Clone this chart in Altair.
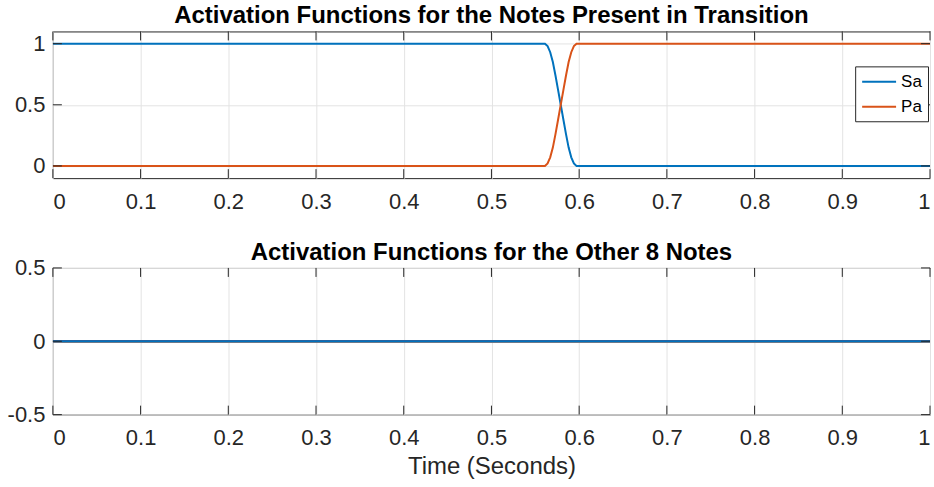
import altair as alt
import pandas as pd

# Sample times (seconds) and activation values for the two notes in transition
time_pts = [0.0, 0.561, 0.564, 0.567, 0.570, 0.573, 0.576, 0.579,
            0.582, 0.585, 0.588, 0.591, 0.594, 0.597, 0.598, 1.0]
sa_vals = [1.0, 1.0, 0.98, 0.93, 0.85, 0.74, 0.62, 0.50,
           0.38, 0.26, 0.15, 0.07, 0.02, 0.0, 0.0, 0.0]
pa_vals = [0.0, 0.0, 0.02, 0.07, 0.15, 0.26, 0.38, 0.50,
           0.62, 0.74, 0.85, 0.93, 0.98, 1.0, 1.0, 1.0]

# The remaining eight notes stay silent over the whole second
other_notes = ["Note 1", "Note 2", "Note 3", "Note 4",
               "Note 5", "Note 6", "Note 7", "Note 8"]
other_time = [0.0, 1.0]
other_vals = [0.0, 0.0]

x_ticks = [0.0, 0.1, 0.2, 0.3, 0.4, 0.5, 0.6, 0.7, 0.8, 0.9, 1.0]
top_y_ticks = [0.0, 0.5, 1.0]
bottom_y_ticks = [-0.5, 0.0, 0.5]

# MATLAB default line colour order
line_colors = ["#0072BD", "#D95319", "#EDB120", "#7E2F8E",
               "#77AC30", "#4DBEEE", "#A2142F", "#0072BD"]

W, H = 879, 147
TICK = 9
AXIS_COLOR = "#262626"
FONT = "Liberation Sans"

top_df = pd.DataFrame({
    "t": time_pts * 2,
    "v": sa_vals + pa_vals,
    "note": ["Sa"] * len(time_pts) + ["Pa"] * len(time_pts),
})

bottom_df = pd.DataFrame({
    "t": [t for _ in other_notes for t in other_time],
    "v": [v for _ in other_notes for v in other_vals],
    "note": [n for n in other_notes for _ in other_time],
})

label_expr = "replace(format(datum.value, '.1~f'), '\u2212', '-')"


def panel(df, y_domain, y_ticks, title, colors, domain, legend, x_title,
          title_offset):
    x_scale = alt.Scale(domain=[0, 1], nice=False, zero=False)
    y_scale = alt.Scale(domain=y_domain, nice=False, zero=False)

    x_axis = alt.Axis(values=x_ticks, labelExpr=label_expr, title=x_title,
                      grid=True, ticks=False, domain=False, tickSize=0,
                      labelPadding=13)
    y_axis = alt.Axis(values=y_ticks, labelExpr=label_expr, title=None,
                      grid=True, ticks=False, domain=False, tickSize=0,
                      labelPadding=8)

    lines = alt.Chart(df).mark_line(strokeWidth=2, clip=True).encode(
        x=alt.X("t:Q", scale=x_scale, axis=x_axis),
        y=alt.Y("v:Q", scale=y_scale, axis=y_axis),
        color=alt.Color("note:N", scale=alt.Scale(domain=domain, range=colors),
                        legend=legend, sort=domain),
        order=alt.Order("note_order:Q"),
    ).transform_calculate(
        note_order="indexof(" + str(domain) + ", datum.note)"
    )

    xt = pd.DataFrame({"x": x_ticks})
    yt = pd.DataFrame({"y": y_ticks})
    rule_style = dict(color=AXIS_COLOR, strokeWidth=1)

    # inward-pointing ticks on all four sides of the box
    xb = alt.Chart(xt).mark_rule(**rule_style).encode(
        x=alt.X("x:Q", scale=x_scale, axis=x_axis),
        y=alt.value(H), y2=alt.value(H - TICK))
    xtp = alt.Chart(xt).mark_rule(**rule_style).encode(
        x=alt.X("x:Q", scale=x_scale, axis=x_axis),
        y=alt.value(0), y2=alt.value(TICK))
    yl = alt.Chart(yt).mark_rule(**rule_style).encode(
        y=alt.Y("y:Q", scale=y_scale, axis=y_axis),
        x=alt.value(0), x2=alt.value(TICK))
    yr = alt.Chart(yt).mark_rule(**rule_style).encode(
        y=alt.Y("y:Q", scale=y_scale, axis=y_axis),
        x=alt.value(W), x2=alt.value(W - TICK))

    return alt.layer(lines, xb, xtp, yl, yr).properties(
        width=W, height=H,
        title=alt.TitleParams(title, fontSize=24, fontWeight="bold", font=FONT,
                              color="#000000", anchor="middle", frame="group",
                              offset=title_offset),
    )


top = panel(
    top_df, [-0.1, 1.1], top_y_ticks,
    "Activation Functions for the Notes Present in Transition",
    line_colors[:2], ["Sa", "Pa"],
    alt.Legend(title=None, orient="none", legendX=804, legendY=35,
               symbolType="M-1,0H3", symbolSize=289, symbolStrokeWidth=2,
               labelFontSize=17, labelFont=FONT, labelColor="#000000",
               strokeColor=AXIS_COLOR, fillColor="#ffffff", padding=6,
               rowPadding=7, labelOffset=21, cornerRadius=0),
    None, 3,
)

# the "0.5" label sits on the top edge, so pull this title back down
bottom = panel(
    bottom_df, [-0.5, 0.5], bottom_y_ticks,
    "Activation Functions for the Other 8 Notes",
    line_colors, other_notes, None, "Time (Seconds)", -8,
)

chart = alt.vconcat(top, bottom, spacing=27).resolve_scale(
    color="independent", x="independent", y="independent",
).properties(
    padding={"left": 6, "top": 3, "right": 3, "bottom": 0},
    background="#ffffff",
).configure_view(
    stroke=AXIS_COLOR, strokeWidth=1,
).configure_axis(
    labelFont=FONT, labelFontSize=22, labelColor=AXIS_COLOR,
    titleFont=FONT, titleFontSize=24, titleColor=AXIS_COLOR,
    titleFontWeight="normal", titlePadding=6,
    gridColor="#e3e3e3", gridWidth=1,
)

chart.save("out.html", embed_options={"renderer": "svg", "actions": False})
